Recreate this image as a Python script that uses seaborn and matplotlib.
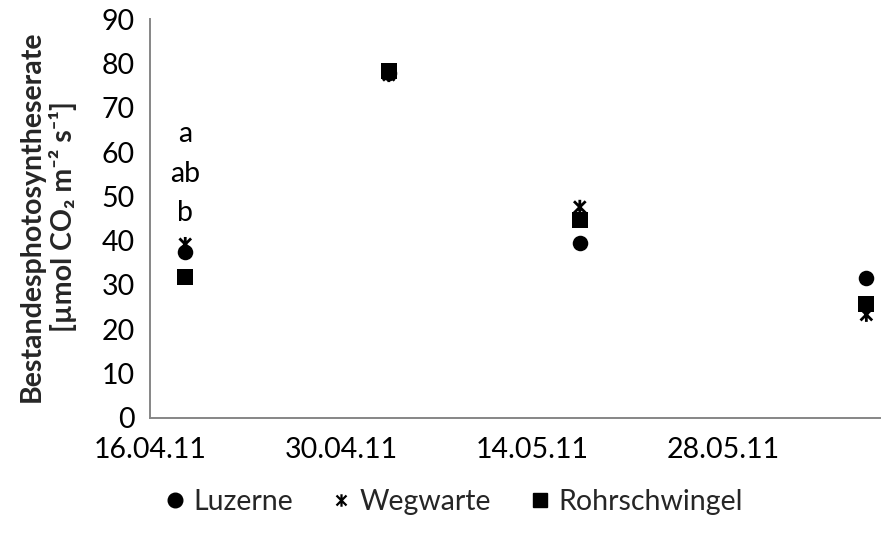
import matplotlib
matplotlib.use("Agg")
import matplotlib.pyplot as plt
import matplotlib.dates as mdates
from matplotlib.path import Path
from matplotlib.lines import Line2D
import seaborn as sns
import pandas as pd

# ---- data ----
dates = ["2011-04-18 14:00", "2011-05-03 12:00", "2011-05-17 12:00", "2011-06-07 12:00"]
luzerne = [37.4, 78.0, 39.5, 31.6]
wegwarte = [39.2, 77.5, 47.6, 23.3]
rohrschwingel = [31.7, 78.3, 44.6, 25.7]
series_names = ["Luzerne", "Wegwarte", "Rohrschwingel"]
x_ticks = ["2011-04-16", "2011-04-30", "2011-05-14", "2011-05-28"]
y_ticks = [0, 10, 20, 30, 40, 50, 60, 70, 80, 90]
letters = ["a", "ab", "b"]
letter_y = [62.2, 53.3, 44.5]

sns.set_theme(style="white")
plt.rcParams['font.family'] = ['Lato', 'DejaVu Sans']

FS = 20.5

df = pd.DataFrame({
    "Datum": pd.to_datetime(dates * 3),
    "Wert": luzerne + wegwarte + rohrschwingel,
    "Art": [n for n in series_names for _ in dates],
})

# Excel-like star marker: X with vertical line
star = Path([(-1, -1), (1, 1), (-1, 1), (1, -1), (0, -1.25), (0, 1.25)],
            [Path.MOVETO, Path.LINETO, Path.MOVETO, Path.LINETO, Path.MOVETO, Path.LINETO])
marker_map = {"Luzerne": "o", "Wegwarte": star, "Rohrschwingel": "s"}

fig = plt.figure(figsize=(8.87, 5.35), dpi=100)
ax = fig.add_axes([150/887, 1 - 417.7/535, (880-150)/887, (417.7-19.5)/535])

gray = "#868686"
for name in series_names:
    sub = df[df["Art"] == name]
    if name == "Wegwarte":
        sns.scatterplot(data=sub, x="Datum", y="Wert", marker=star, s=110,
                        facecolor="none", edgecolor="black", linewidth=2.0, ax=ax, zorder=3)
    else:
        sns.scatterplot(data=sub, x="Datum", y="Wert", marker=marker_map[name], s=125,
                        color="black", edgecolor="black", linewidth=0, ax=ax,
                        zorder=4 if name == "Rohrschwingel" else 2)

ax.set_ylim(0, 90)
ax.set_yticks(y_ticks)
ax.set_xlim(pd.Timestamp("2011-04-16"), pd.Timestamp("2011-06-08 12:00"))
ax.set_xticks(pd.to_datetime(x_ticks))
ax.xaxis.set_major_formatter(mdates.DateFormatter("%d.%m.%y"))

for sp in ["top", "right"]:
    ax.spines[sp].set_visible(False)
for sp in ["left", "bottom"]:
    ax.spines[sp].set_color(gray)
    ax.spines[sp].set_linewidth(1.4)
ax.tick_params(axis="both", which="major", direction="out", length=7, width=1.4,
               color=gray, labelsize=FS, labelcolor="black", pad=4)
ax.tick_params(axis="x", pad=7)
ax.set_xlabel("")
ax.set_ylabel("")
fig.text(0.054, 0.595,
         "Bestandesphotosyntheserate\n[µmol CO\u2082 m\u207b\u00b2 s\u207b\u00b9]",
         rotation=90, ha="center", va="center", multialignment="center",
         fontsize=FS, fontweight="bold", linespacing=1.15)

for lab, yv in zip(letters, letter_y):
    ax.text(pd.Timestamp(dates[0]), yv, lab, ha="center", va="baseline", fontsize=FS, color="black")

handles = [
    Line2D([], [], marker="o", linestyle="none", color="black", markersize=10.5),
    Line2D([], [], marker=star, linestyle="none", color="black", markerfacecolor="none",
           markersize=9, markeredgewidth=1.6),
    Line2D([], [], marker="s", linestyle="none", color="black", markersize=10.5),
]
fig.legend(handles, series_names, loc="lower center", bbox_to_anchor=(0.509, -0.01), ncol=3,
           frameon=False, fontsize=FS, handletextpad=0.15, columnspacing=1.2, handlelength=1.0)

fig.savefig("out.png", dpi=100)
